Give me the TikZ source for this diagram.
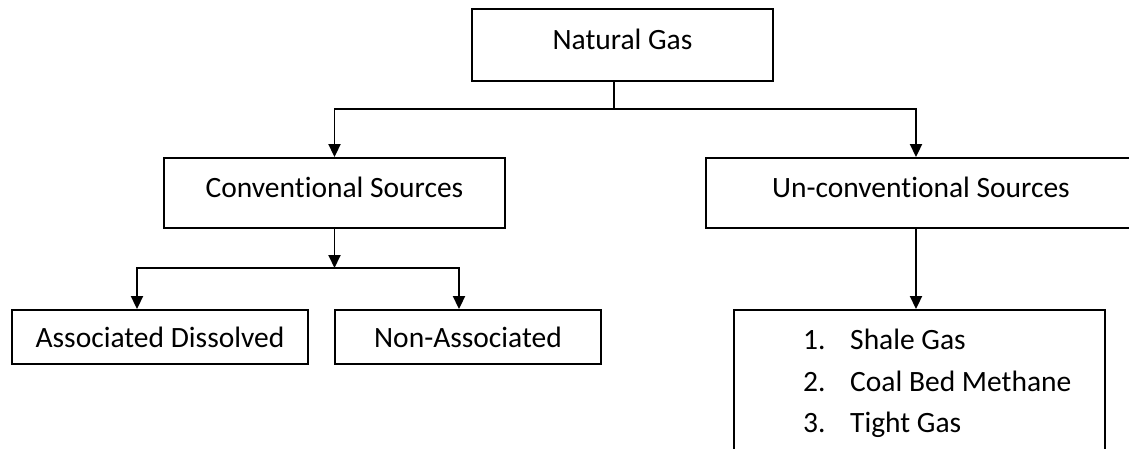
\documentclass[tikz,border=0pt]{standalone}
\usepackage{fontspec}
\setmainfont{Carlito}[Ligatures=NoCommon]
\usetikzlibrary{arrows.meta}
\begin{document}
\begin{tikzpicture}[x=1pt,y=-1pt,
  box/.style={draw,line width=1.9pt,inner sep=0pt,font=\fontsize{29.5}{35}\selectfont},
  upper/.style={text height=20pt,text depth=11.4pt},
  item/.style={anchor=base west,inner sep=0pt,font=\fontsize{29.5}{35}\selectfont},
  conn/.style={line width=1.9pt},
  arr/.style={conn,-{Triangle[width=12pt,length=13pt]}}]
\useasboundingbox (0,0) rectangle (1129,448);
\clip (0,0) rectangle (1129,448);
% boxes
\node[box,upper,minimum width=301pt,minimum height=72pt] (ng) at (622.5,45) {Natural Gas};
\node[box,upper,minimum width=341pt,minimum height=70pt] (conv) at (334.5,193) {Conventional Sources};
\node[box,upper,minimum width=430pt,minimum height=70pt] (unconv) at (921,193) {Un-conventional Sources};
\node[box,minimum width=296.5pt,minimum height=54pt] (assoc) at (160,337) {Associated Dissolved};
\node[box,minimum width=266pt,minimum height=54pt] (nonassoc) at (468,337) {Non-Associated};
\node[box,minimum width=371pt,minimum height=150pt] (lst) at (919.5,385) {};
% list items
\node[item] (n1) at (803,349) {1.};
\node[item] (t1) at (850,349) {Shale Gas};
\node[item] (n2) at (803,391) {2.};
\node[item] (t2) at (850,391) {Coal Bed Methane};
\node[item] (n3) at (803,432) {3.};
\node[item] (t3) at (850,432) {Tight Gas};
% junction coordinates
\coordinate (top) at (614,109);
\coordinate (hl) at (334.5,109);
\coordinate (hr) at (916,109);
\coordinate (mid) at (334.5,268);
\coordinate (al) at (137,268);
\coordinate (ar) at (459,268);
% connectors
\draw[conn] (top |- ng.south) -- (top);
\draw[arr] (top) -| (hl |- conv.north);
\draw[arr] (top) -| (hr |- unconv.north);
\draw[arr] (conv.south) -- (mid);
\draw[arr] (mid) -| (al |- assoc.north);
\draw[arr] (mid) -| (ar |- nonassoc.north);
\draw[arr] (hr |- unconv.south) -- (hr |- lst.north);
\end{tikzpicture}
\end{document}
